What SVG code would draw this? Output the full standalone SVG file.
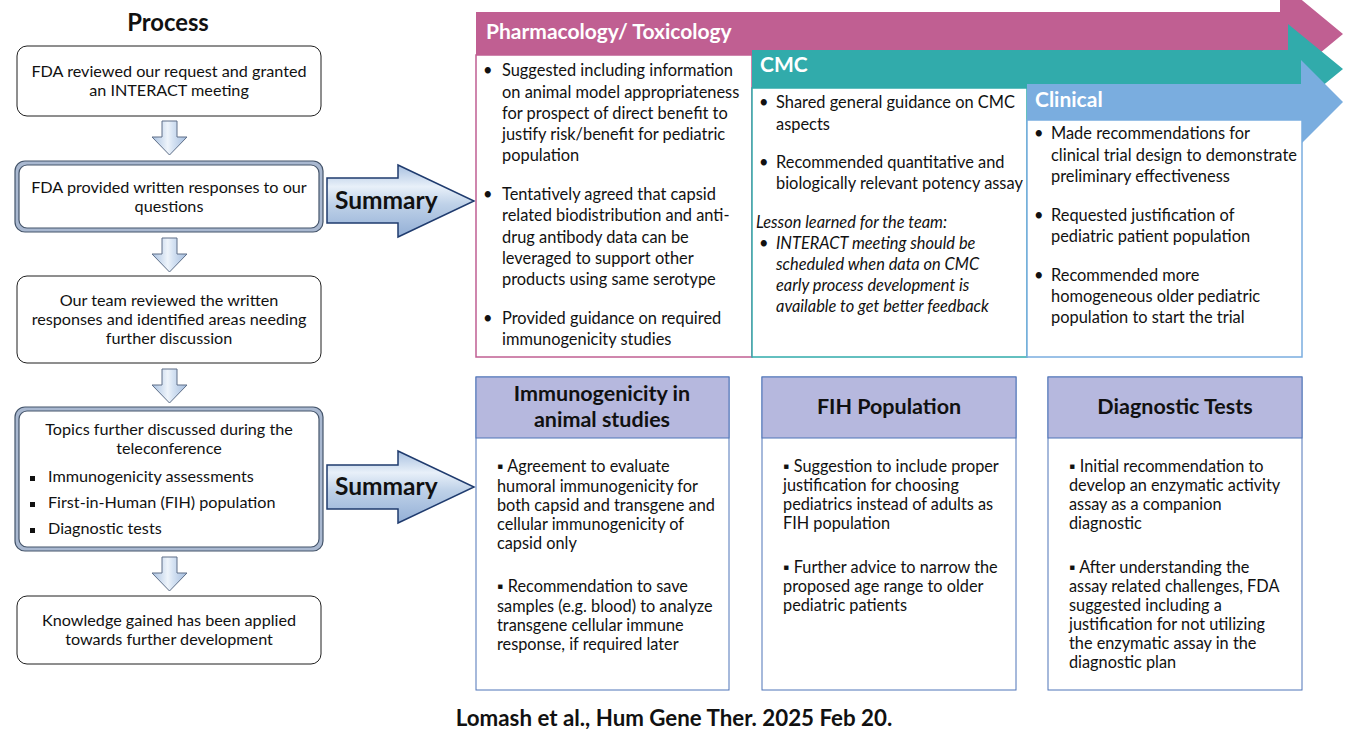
<svg xmlns="http://www.w3.org/2000/svg" width="1359" height="734" viewBox="0 0 1359 734">
<defs>
<style>
.t{font-family:Lato,"Liberation Sans",sans-serif;font-size:16.4px;fill:#111;}
.l{font-size:16.2px;}
.s{font-size:16.3px;}
.c{text-anchor:middle;}
.b{font-weight:bold;}
.i{font-style:italic;}
.w{fill:#fff;}
.pbox{fill:#fff;stroke:#1f1f1f;stroke-width:1;}
.dbo{fill:#a9b8d0;stroke:#44546a;stroke-width:1.2;}
.dbi{fill:#fff;stroke:#44546a;stroke-width:1.2;}
.darr{fill:url(#gd);stroke:#5f6f88;stroke-width:1;}
.sarr{fill:url(#gs);stroke:#1f3b6e;stroke-width:1.5;}
.bx{fill:#fff;stroke:#4f74b8;stroke-width:1;}
.hd{fill:#b6b8de;stroke:#4f74b8;stroke-width:1;}
.ht{font-size:21px;}
.ti{font-size:21.5px;}
</style>
<linearGradient id="gd" x1="0" y1="0" x2="1" y2="0">
<stop offset="0" stop-color="#a9c1e0"/>
<stop offset="0.45" stop-color="#eef4fb"/>
<stop offset="0.6" stop-color="#d6e3f3"/>
<stop offset="1" stop-color="#a3bcdd"/>
</linearGradient>
<linearGradient id="gs" x1="0" y1="0" x2="0" y2="1">
<stop offset="0" stop-color="#a8c0e0"/>
<stop offset="0.3" stop-color="#e8f0f9"/>
<stop offset="0.55" stop-color="#bed1e8"/>
<stop offset="1" stop-color="#93afd6"/>
</linearGradient>
</defs>
<rect width="1359" height="734" fill="#fff"/>

<text class="t b c" x="168" y="31" style="font-size:23.8px">Process</text>

<g id="step1">
<rect class="pbox" x="17" y="46" width="304" height="70" rx="10"/>
<text class="t l c" x="169" y="77">FDA reviewed our request and granted</text>
<text class="t l c" x="169" y="96">an INTERACT meeting</text>
</g>
<g id="step2">
<rect class="dbo" x="15" y="161" width="308" height="71" rx="10"/>
<rect class="dbi" x="19" y="165" width="300" height="63" rx="8"/>
<text class="t l c" x="169" y="193">FDA provided written responses to our</text>
<text class="t l c" x="169" y="212">questions</text>
</g>
<g id="step3">
<rect class="pbox" x="17" y="276" width="304" height="87" rx="10"/>
<text class="t l c" x="169" y="306">Our team reviewed the written</text>
<text class="t l c" x="169" y="325">responses and identified areas needing</text>
<text class="t l c" x="169" y="344">further discussion</text>
</g>
<g id="step4">
<rect class="dbo" x="15" y="407" width="308" height="144" rx="10"/>
<rect class="dbi" x="19" y="411" width="300" height="136" rx="8"/>
<text class="t l c" x="169" y="435">Topics further discussed during the</text>
<text class="t l c" x="169" y="454">teleconference</text>
<rect x="30" y="476" width="5" height="5" fill="#111"/>
<text class="t l" x="48" y="482">Immunogenicity assessments</text>
<rect x="30" y="502" width="5" height="5" fill="#111"/>
<text class="t l" x="48" y="508">First-in-Human (FIH) population</text>
<rect x="30" y="528" width="5" height="5" fill="#111"/>
<text class="t l" x="48" y="534">Diagnostic tests</text>
</g>
<g id="step5">
<rect class="pbox" x="17" y="596" width="304" height="68" rx="10"/>
<text class="t l c" x="169" y="626">Knowledge gained has been applied</text>
<text class="t l c" x="169" y="645">towards further development</text>
</g>

<g id="connectors">
<path class="darr" d="M162,121 H177 V137 H187 L169.5,155 L152,137 H162 Z"/>
<path class="darr" d="M162,238 H177 V254 H187 L169.5,272 L152,254 H162 Z"/>
<path class="darr" d="M162,369 H177 V385 H187 L169.5,403 L152,385 H162 Z"/>
<path class="darr" d="M162,557 H177 V573 H187 L169.5,591 L152,573 H162 Z"/>
<g id="summary1">
<path class="sarr" d="M327,178 H398 V165 L474,201 L398,237 V223 H327 Z"/>
<text class="t b" x="335" y="209" style="font-size:24.5px">Summary</text>
</g>
<g id="summary2">
<path class="sarr" d="M327,465 H398 V451 L474,487 L398,523 V509 H327 Z"/>
<text class="t b" x="335" y="495" style="font-size:24.5px">Summary</text>
</g>
</g>

<g id="pharm">
<path d="M476,12 H1280 V-18 L1343,34 L1280,86 V55 H476 Z" fill="#c05f92"/>
<rect x="476" y="55" width="276" height="302" fill="#fff" stroke="#c05f92" stroke-width="1.5"/>
<text class="t b w ht" x="486" y="39">Pharmacology/ Toxicology</text>
<text class="t" x="483" y="76">•</text>
<text class="t" x="502" y="76">Suggested including information</text>
<text class="t" x="502" y="98">on animal model appropriateness</text>
<text class="t" x="502" y="119">for prospect of direct benefit to</text>
<text class="t" x="502" y="140">justify risk/benefit for pediatric</text>
<text class="t" x="502" y="161">population</text>
<text class="t" x="483" y="200">•</text>
<text class="t" x="502" y="200">Tentatively agreed that capsid</text>
<text class="t" x="502" y="221">related biodistribution and anti-</text>
<text class="t" x="502" y="243">drug antibody data can be</text>
<text class="t" x="502" y="264">leveraged to support other</text>
<text class="t" x="502" y="285">products using same serotype</text>
<text class="t" x="483" y="324">•</text>
<text class="t" x="502" y="324">Provided guidance on required</text>
<text class="t" x="502" y="345">immunogenicity studies</text>
</g>

<g id="cmc">
<path d="M752,50 H1288 V24 L1343,69 L1288,114 V88 H752 Z" fill="#31abab"/>
<rect x="752" y="88" width="275" height="269" fill="#fff" stroke="#31abab" stroke-width="1.5"/>
<text class="t b w ht" x="760" y="72">CMC</text>
<text class="t" x="759" y="108">•</text>
<text class="t" x="776" y="108">Shared general guidance on CMC</text>
<text class="t" x="776" y="130">aspects</text>
<text class="t" x="759" y="168">•</text>
<text class="t" x="776" y="168">Recommended quantitative and</text>
<text class="t" x="776" y="189">biologically relevant potency assay</text>
<text class="t i" x="756" y="228">Lesson learned for the team:</text>
<text class="t" x="759" y="249">•</text>
<text class="t i" x="776" y="249">INTERACT meeting should be</text>
<text class="t i" x="776" y="270">scheduled when data on CMC</text>
<text class="t i" x="776" y="291">early process development is</text>
<text class="t i" x="776" y="312">available to get better feedback</text>
</g>

<g id="clinical">
<path d="M1027,84 H1301 V60 L1343,102 L1301,144 V120 H1027 Z" fill="#7aaddf"/>
<rect x="1027" y="120" width="275" height="237" fill="#fff" stroke="#7aaddf" stroke-width="1.5"/>
<text class="t b w ht" x="1035" y="107">Clinical</text>
<text class="t" x="1034" y="139">•</text>
<text class="t" x="1051" y="139">Made recommendations for</text>
<text class="t" x="1051" y="161">clinical trial design to demonstrate</text>
<text class="t" x="1051" y="182">preliminary effectiveness</text>
<text class="t" x="1034" y="221">•</text>
<text class="t" x="1051" y="221">Requested justification of</text>
<text class="t" x="1051" y="242">pediatric patient population</text>
<text class="t" x="1034" y="281">•</text>
<text class="t" x="1051" y="281">Recommended more</text>
<text class="t" x="1051" y="302">homogeneous older pediatric</text>
<text class="t" x="1051" y="323">population to start the trial</text>
</g>

<g id="immuno">
<rect class="bx" x="476" y="377" width="253" height="313"/>
<rect class="hd" x="476" y="377" width="253" height="61"/>
<text class="t b c ti" x="602" y="401">Immunogenicity in</text>
<text class="t b c ti" x="602" y="427">animal studies</text>
<text class="t s" x="497" y="472">▪ Agreement to evaluate</text>
<text class="t s" x="497" y="492">humoral immunogenicity for</text>
<text class="t s" x="497" y="511">both capsid and transgene and</text>
<text class="t s" x="497" y="530">cellular immunogenicity of</text>
<text class="t s" x="497" y="549">capsid only</text>
<text class="t s" x="497" y="592">▪ Recommendation to save</text>
<text class="t s" x="497" y="612">samples (e.g. blood) to analyze</text>
<text class="t s" x="497" y="631">transgene cellular immune</text>
<text class="t s" x="497" y="650">response, if required later</text>
</g>

<g id="fih">
<rect class="bx" x="762" y="377" width="254" height="313"/>
<rect class="hd" x="762" y="377" width="254" height="61"/>
<text class="t b c ti" x="889" y="414">FIH Population</text>
<text class="t s" x="783" y="472">▪ Suggestion to include proper</text>
<text class="t s" x="783" y="491">justification for choosing</text>
<text class="t s" x="783" y="510">pediatrics instead of adults as</text>
<text class="t s" x="783" y="529">FIH population</text>
<text class="t s" x="783" y="573">▪ Further advice to narrow the</text>
<text class="t s" x="783" y="592">proposed age range to older</text>
<text class="t s" x="783" y="611">pediatric patients</text>
</g>

<g id="diag">
<rect class="bx" x="1048" y="377" width="254" height="313"/>
<rect class="hd" x="1048" y="377" width="254" height="61"/>
<text class="t b c ti" x="1175" y="414">Diagnostic Tests</text>
<text class="t s" x="1069" y="472">▪ Initial recommendation to</text>
<text class="t s" x="1069" y="491">develop an enzymatic activity</text>
<text class="t s" x="1069" y="510">assay as a companion</text>
<text class="t s" x="1069" y="529">diagnostic</text>
<text class="t s" x="1069" y="573">▪ After understanding the</text>
<text class="t s" x="1069" y="592">assay related challenges, FDA</text>
<text class="t s" x="1069" y="611">suggested including a</text>
<text class="t s" x="1069" y="630">justification for not utilizing</text>
<text class="t s" x="1069" y="649">the enzymatic assay in the</text>
<text class="t s" x="1069" y="668">diagnostic plan</text>
</g>

<text class="t b c" x="674" y="726" style="font-size:22.3px">Lomash et al., Hum Gene Ther. 2025 Feb 20.</text>
</svg>
